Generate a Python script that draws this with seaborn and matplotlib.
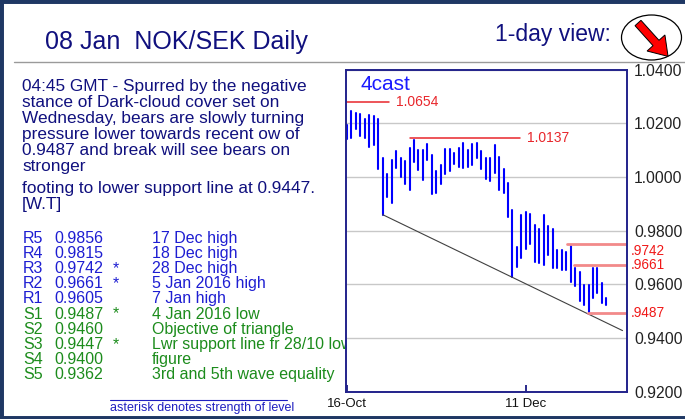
import pandas as pd
import matplotlib.pyplot as plt
import seaborn as sns
from matplotlib.patches import Ellipse, FancyArrow, Rectangle
sns.set_theme(style="white")
plt.rcParams['font.family'] = ['Liberation Sans', 'DejaVu Sans']

# daily high / low, 16 Oct 2015 .. 8 Jan 2016 (business days)
highs = [1.0195, 1.0247, 1.0238, 1.0234, 1.0217, 1.0232, 1.0226, 1.0217, 1.0071, 1.0010,
         1.0063, 1.0096, 1.0069, 1.0059, 1.0106, 1.0137, 1.0100, 1.0099, 1.0123, 1.0080,
         1.0022, 1.0044, 1.0103, 1.0103, 1.0090, 1.0106, 1.0125, 1.0099, 1.0121, 1.0127,
         1.0096, 1.0071, 1.0071, 1.0117, 1.0074, 1.0029, 0.9977, 0.9878, 0.9740, 0.9859,
         0.9870, 0.9862, 0.9822, 0.9806, 0.9856, 0.9815, 0.9804, 0.9729, 0.9729, 0.9719,
         0.9742, 0.9662, 0.9646, 0.9596, 0.9596, 0.9661, 0.9659, 0.9605, 0.9547]
lows = [1.0142, 1.0143, 1.0177, 1.0152, 1.0143, 1.0112, 1.0117, 1.0029, 0.9859, 0.9923,
        0.9903, 1.0032, 1.0000, 0.9973, 0.9952, 1.0057, 1.0025, 0.9988, 1.0062, 0.9936,
        0.9938, 0.9973, 1.0010, 1.0022, 1.0047, 1.0037, 1.0032, 1.0037, 1.0044, 1.0071,
        1.0029, 0.9991, 0.9983, 1.0016, 0.9951, 0.9938, 0.9849, 0.9627, 0.9664, 0.9699,
        0.9730, 0.9751, 0.9683, 0.9679, 0.9670, 0.9707, 0.9661, 0.9659, 0.9652, 0.9652,
        0.9609, 0.9594, 0.9538, 0.9522, 0.9487, 0.9550, 0.9567, 0.9529, 0.9522]

x_ticks = [0, 40]
x_labels = ['16-Oct', '11 Dec']
y_ticks = [0.92, 0.94, 0.96, 0.98, 1.00, 1.02, 1.04]

# support line from the 28/10 low
support_x = [8, 61.6]
support_y = [0.9859, 0.9427]

# marked levels: label, price drawn, start bar, end bar
level_labels = ['1.0654', '1.0137', '.9742', '.9661', '.9487']
level_y = [1.0278, 1.0143, 0.9748, 0.9670, 0.9491]
level_x0 = [0, 14.1, 49.3, 50.8, 53.9]
level_x1 = [9.5, 38.7, 62.6, 62.6, 62.6]

comment = ["04:45 GMT - Spurred by the negative",
           "stance of Dark-cloud cover set on",
           "Wednesday, bears are slowly turning",
           "pressure lower towards recent ow of",
           "0.9487 and break will see bears on",
           "stronger",
           "footing to lower support line at 0.9447.",
           "[W.T]"]

lvl_names = ['R5', 'R4', 'R3', 'R2', 'R1', 'S1', 'S2', 'S3', 'S4', 'S5']
lvl_values = ['0.9856', '0.9815', '0.9742', '0.9661', '0.9605',
              '0.9487', '0.9460', '0.9447', '0.9400', '0.9362']
lvl_star = ['', '', '*', '*', '', '*', '', '*', '', '']
lvl_notes = ['17 Dec high', '18 Dec high', '28 Dec high', '5 Jan 2016 high', '7 Jan high',
             '4 Jan 2016 low', 'Objective of triangle', 'Lwr support line fr 28/10 low',
             'figure', '3rd and 5th wave equality']

n = len(highs)
df = pd.DataFrame({'bar': list(range(n)) * 2, 'price': highs + lows})

fig = plt.figure(figsize=(6.85, 4.19), dpi=100)
fig.patch.set_facecolor('white')

# overlay in pixel coordinates for the page text
ov = fig.add_axes([0, 0, 1, 1], zorder=-1)
ov.set_xlim(0, 685)
ov.set_ylim(419, 0)
ov.axis('off')

navy = '#10107E'
ov.text(45, 42, '08 Jan  NOK/SEK Daily', color=navy, fontsize=18, va='center')
ov.text(495, 35, '1-day view:', color=navy, fontsize=16.5, va='center')
ov.add_patch(Ellipse((651.5, 37.5), 60, 45, fill=False, ec='black', lw=0.9))
ov.add_patch(FancyArrow(638, 23, 18, 20, width=8, head_width=24, head_length=18,
                        length_includes_head=False, fc='#FF0000', ec='black', lw=0.7))
ov.plot([14, 685], [62, 62], color='#9A9A9A', lw=1)

for i, line in enumerate(comment):
    y = 86 + 16 * i if i < 6 else 188 + 16 * (i - 6)
    ov.text(22, y, line, color=navy, fontsize=12.4, va='center')

for i in range(len(lvl_names)):
    c = '#1E1ED2' if lvl_names[i][0] == 'R' else '#1C8C1C'
    y = 238 + 15.2 * i
    ov.text(23, y, lvl_names[i], color=c, fontsize=11.5, va='center')
    ov.text(54, y, lvl_values[i], color=c, fontsize=11.5, va='center')
    ov.text(113, y, lvl_star[i], color=c, fontsize=11.5, va='center')
    ov.text(152, y, lvl_notes[i], color=c, fontsize=11.5, va='center')

ov.plot([110, 287], [400, 400], color='#2020C0', lw=0.8)
ov.text(110, 408, 'asterisk denotes strength of level', color='#2020C0', fontsize=9, va='center')
ov.add_patch(Rectangle((0, 0), 700, 419, fill=False, ec='#1F3864', lw=5, clip_on=False))

# price chart
ax = fig.add_axes([346 / 685, 27.5 / 419, 281 / 685, 322 / 419], zorder=1)
ax.set_facecolor('white')
sns.lineplot(data=df, x='bar', y='price', units='bar', estimator=None,
             color='#0000FF', lw=1.5, ax=ax, legend=False)
sns.lineplot(x=support_x, y=support_y, color='#404040', lw=0.8, ax=ax)

for i in range(len(level_labels)):
    if i < 2:
        ax.plot([level_x0[i], level_x1[i]], [level_y[i]] * 2, color='#E8262B', lw=1.1)
        ax.text(level_x1[i] + 1.5, level_y[i], level_labels[i], color='#E8262B',
                fontsize=10, va='center')
    else:
        ax.plot([level_x0[i], level_x1[i]], [level_y[i]] * 2, color='#F28A8A', lw=2)
        ax.text(1.012, level_y[i], level_labels[i], color='#F01818', fontsize=9.8,
                va='top' if i == 2 else 'center', transform=ax.get_yaxis_transform(),
                clip_on=False)

ax.text(3, 1.0345, '4cast', color='#1A1AFF', fontsize=15, va='center')

ax.set_xlim(-0.2, 62.6)
ax.set_ylim(0.92, 1.04)
ax.set_xticks(x_ticks)
ax.set_xticklabels(x_labels)
ax.set_yticks(y_ticks)
ax.set_yticklabels(['%.4f' % v for v in y_ticks])
ax.yaxis.tick_right()
ax.tick_params(axis='y', length=0, pad=5, labelsize=11.3, labelcolor='#222222')
ax.tick_params(axis='x', direction='in', length=5, color=navy, pad=5,
               labelsize=9.5, labelcolor='#111111', bottom=True)
ax.grid(axis='y', color='#C8C8C8', lw=1)
ax.set_xlabel('')
ax.set_ylabel('')
for s in ax.spines.values():
    s.set_color('#22228B')
    s.set_linewidth(1.4)

fig.savefig('out.png', dpi=100)
